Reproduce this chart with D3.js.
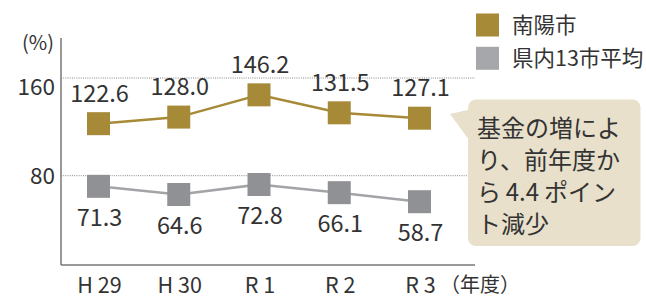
<!DOCTYPE html>
<html><head><meta charset="utf-8">
<script src="https://cdn.jsdelivr.net/npm/d3@7"></script>
<style>html,body{margin:0;padding:0;background:#fff;}svg{display:block;font-family:"Noto Sans CJK JP","Noto Sans",sans-serif;}</style>
</head><body>
<script>
const categories = ["H 29", "H 30", "R 1", "R 2", "R 3"];
const nanyo = [122.6, 128.0, 146.2, 131.5, 127.1];
const avg13 = [71.3, 64.6, 72.8, 66.1, 58.7];
const yTicks = [80, 160];
const seriesNames = ["南陽市", "県内13市平均"];
const calloutLines = ["基金の増によ", "り、前年度か", "ら\u20094.4\u2009ポイン", "ト減少"];

const W = 646, H = 299;
const gold = "#A68A37", greyM = "#909195", greyL = "#A3A4A7", greyLeg = "#A6A7AA";
const txt = "#333333";

const svg = d3.select("body").append("svg").attr("width", W).attr("height", H);

const x = d3.scalePoint().domain(categories).range([98.5, 419.5]);
const y = d3.scaleLinear().domain([80, 160]).range([175.7, 78]);
const axisLeft = 61, axisRight = 475, axisTop = 38, axisBottom = 265;

// gridlines
svg.append("g").selectAll("line").data(yTicks).join("line")
  .attr("x1", axisLeft).attr("x2", axisRight)
  .attr("y1", d => y(d)).attr("y2", d => y(d))
  .attr("stroke", "#888").attr("stroke-width", 1).attr("stroke-dasharray", "1,1.2");

// axes lines
svg.append("line").attr("x1", axisLeft).attr("x2", axisLeft).attr("y1", axisTop).attr("y2", axisBottom)
  .attr("stroke", "#777").attr("stroke-width", 1.5);
svg.append("line").attr("x1", axisLeft).attr("x2", axisRight).attr("y1", axisBottom).attr("y2", axisBottom)
  .attr("stroke", "#777").attr("stroke-width", 1.5);

// y tick labels
svg.append("g").selectAll("text").data(yTicks).join("text")
  .attr("x", 55).attr("y", d => y(d) + (d === 160 ? 8.5 : 0))
  .attr("dy", "0.36em").attr("text-anchor", "end")
  .attr("font-size", 22.5).attr("fill", txt).text(d => d);
svg.append("text").attr("x", 54).attr("y", 50).attr("text-anchor", "end")
  .attr("font-size", 20).attr("fill", txt).text("(%)");

// x labels
svg.append("g").selectAll("text").data(categories).join("text")
  .attr("x", d => x(d) + 1).attr("y", 293).attr("text-anchor", "middle")
  .attr("font-size", 21.5).attr("fill", txt).text(d => d);
svg.append("text").attr("x", 440).attr("y", 292).attr("font-size", 20).attr("fill", txt).text("（年度）");

// lines
const line = d3.line().x((d, i) => x(categories[i])).y(d => y(d));
svg.append("path").datum(avg13).attr("d", line).attr("fill", "none").attr("stroke", greyL).attr("stroke-width", 2.5);
svg.append("path").datum(nanyo).attr("d", line).attr("fill", "none").attr("stroke", gold).attr("stroke-width", 2.5);

const S = 23;
svg.append("g").selectAll("rect").data(avg13).join("rect")
  .attr("x", (d, i) => x(categories[i]) - S / 2).attr("y", d => y(d) - S / 2)
  .attr("width", S).attr("height", S).attr("fill", greyM);
svg.append("g").selectAll("rect").data(nanyo).join("rect")
  .attr("x", (d, i) => x(categories[i]) - S / 2).attr("y", d => y(d) - S / 2)
  .attr("width", S).attr("height", S).attr("fill", gold);

// value labels
svg.append("g").selectAll("text").data(nanyo).join("text")
  .attr("x", (d, i) => x(categories[i]) + 1).attr("y", d => y(d) - 22)
  .attr("text-anchor", "middle").attr("font-size", 23.5).attr("fill", txt).text(d => d.toFixed(1));
svg.append("g").selectAll("text").data(avg13).join("text")
  .attr("x", (d, i) => x(categories[i]) + 1).attr("y", d => y(d) + 39.5)
  .attr("text-anchor", "middle").attr("font-size", 23.5).attr("fill", txt).text(d => d.toFixed(1));

// legend
const legColors = [gold, greyLeg];
const leg = svg.append("g").selectAll("g").data(seriesNames).join("g")
  .attr("transform", (d, i) => `translate(476,${13.5 + i * 33.3})`);
leg.append("rect").attr("width", 23).attr("height", 23).attr("fill", (d, i) => legColors[i]);
leg.append("text").attr("x", 36).attr("y", 11.5).attr("dy", "0.36em")
  .attr("font-size", 21.5).attr("fill", txt).text(d => d);

// callout
const fill = "#E8E0CA";
svg.append("path").attr("d", "M450,114 L472,109 L472,144 Z").attr("fill", fill);
svg.append("rect").attr("x", 468).attr("y", 99.5).attr("width", 172.5).attr("height", 146.5)
  .attr("rx", 8).attr("fill", fill);
svg.append("g").selectAll("text").data(calloutLines).join("text")
  .attr("x", 477).attr("y", (d, i) => 137 + i * 32)
  .attr("font-size", 24).attr("fill", txt).text(d => d);
</script>
</body></html>
